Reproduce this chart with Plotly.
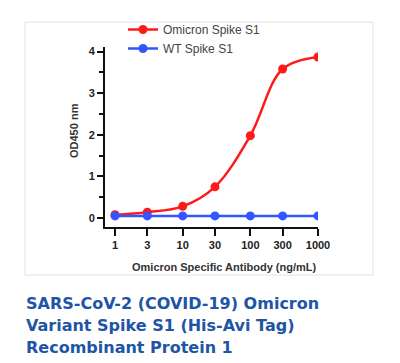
import plotly.graph_objects as go

conc = [1, 3, 10, 30, 100, 300, 1000]
omicron = [0.08, 0.14, 0.28, 0.75, 1.98, 3.58, 3.87]
wt = [0.05, 0.05, 0.05, 0.05, 0.05, 0.05, 0.05]
tick_vals = [1, 3, 10, 30, 100, 300, 1000]
tick_text = ["1", "3", "10", "30", "100", "300", "1000"]
title_lines = ["SARS-CoV-2 (COVID-19) Omicron", "Variant Spike S1 (His-Avi Tag)", "Recombinant Protein 1"]

W, H = 400, 363
L, R, T, B = 105, 82, 47, 136
pw, ph = W - L - R, H - T - B

def px(x):
    return (x - L) / pw

def py(y):
    return (H - B - y) / ph

fig = go.Figure()
fig.add_trace(go.Scatter(x=conc, y=omicron, name="Omicron Spike S1", mode="lines+markers",
                         line=dict(color="#ff1a1a", width=2.5, shape="spline"),
                         marker=dict(color="#ff1a1a", size=9)))
fig.add_trace(go.Scatter(x=conc, y=wt, name="WT Spike S1", mode="lines+markers",
                         line=dict(color="#3355ff", width=2.5),
                         marker=dict(color="#3355ff", size=9)))

fig.update_layout(
    width=W, height=H, margin=dict(l=L, r=R, t=T, b=B),
    paper_bgcolor="white", plot_bgcolor="white",
    showlegend=True,
    legend=dict(x=px(123), y=py(15), xanchor="left", yanchor="top",
                bgcolor="rgba(0,0,0,0)", itemwidth=30,
                font=dict(family="Liberation Sans, Arial", size=12, color="#444444"),
                tracegroupgap=0),
    xaxis=dict(type="log", range=[-0.148, 3.0], tickvals=tick_vals, ticktext=tick_text,
               showgrid=False, zeroline=False, showline=True, linecolor="#111111", linewidth=2,
               ticks="outside", ticklen=7, tickwidth=2, tickcolor="#111111",
               tickfont=dict(family="Liberation Sans, Arial", size=11, color="#222222", weight="bold")),
    yaxis=dict(range=[-0.216, 4.11], tickvals=[0, 1, 2, 3, 4],
               showgrid=False, zeroline=False, showline=True, linecolor="#111111", linewidth=2,
               ticks="outside", ticklen=6, tickwidth=2, tickcolor="#111111",
               minor=dict(tickvals=[0.5, 1.5, 2.5, 3.5], ticks="outside", ticklen=4, tickwidth=2, tickcolor="#111111"),
               tickfont=dict(family="Liberation Sans, Arial", size=11, color="#222222", weight="bold")),
    shapes=[dict(type="rect", xref="paper", yref="paper",
                 x0=px(25), x1=px(373), y0=py(275), y1=py(22),
                 line=dict(color="#e2e2e2", width=1), layer="below")],
)

fig.add_annotation(text="OD450 nm", xref="paper", yref="paper", x=px(74), y=py(131),
                   textangle=-90, showarrow=False, xanchor="center", yanchor="middle",
                   font=dict(family="Liberation Sans, Arial", size=11, color="#333333", weight="bold"))
fig.add_annotation(text="Omicron Specific Antibody (ng/mL)", xref="paper", yref="paper", x=px(224), y=py(267),
                   showarrow=False, xanchor="center", yanchor="middle",
                   font=dict(family="Liberation Sans, Arial", size=11, color="#333333", weight="bold"))

for i, line in enumerate(title_lines):
    fig.add_annotation(text=line, xref="paper", yref="paper", x=px(24), y=py(303 + 22 * i),
                       showarrow=False, xanchor="left", yanchor="middle",
                       font=dict(family="DejaVu Sans", size=16, color="#2055a5", weight="bold"))

fig.write_html("out.html", config={"displayModeBar": False},
               post_script="document.body.style.margin='0';document.body.style.overflow='hidden';")
